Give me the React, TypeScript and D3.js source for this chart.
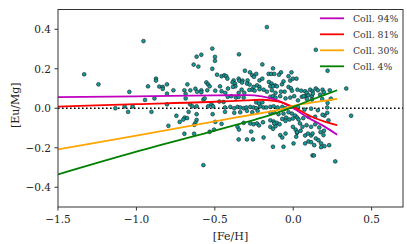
import * as d3 from 'd3'

// model tracks, sampled on a common [Fe/H] grid
const modelFeH = [-1.5, -1.0, -0.5, -0.3, -0.2, -0.1, 0.0, 0.1, 0.2, 0.28]
const coll94 = [0.056, 0.06, 0.065, 0.066, 0.06, 0.04, 0.0, -0.05, -0.093, -0.134]
const coll81 = [0.008, 0.021, 0.033, 0.04, 0.043, 0.035, 0.007, -0.037, -0.068, -0.086]
const coll30 = [-0.208, -0.139, -0.066, -0.038, -0.024, -0.01, 0.012, 0.026, 0.038, 0.047]
const coll4 = [-0.335, -0.22, -0.113, -0.07, -0.048, -0.022, 0.007, 0.038, 0.068, 0.091]

const seriesNames = ['Coll. 94%', 'Coll. 81%', 'Coll. 30%', 'Coll. 4%']
const seriesColors = ['#bf00bf', '#ff0000', '#ffa500', '#008000']

const xTicks = [-1.5, -1.0, -0.5, 0.0, 0.5]
const yTicks = [-0.4, -0.2, 0.0, 0.2, 0.4]

// observed stars: [Fe/H], [Eu/Mg]
const stars: [number, number][] = [
  [-0.955, 0.34], [-1.333, 0.172], [-1.242, 0.121], [-1.045, 0.083], [-0.926, 0.111], [-0.945, 0.042],
  [-1.134, 0.0], [-1.075, 0.009], [-1.024, 0.009], [-1.053, -0.018],
  [-0.516, 0.302], [-0.499, 0.26], [-0.499, 0.24], [-0.616, 0.261], [-0.586, 0.271], [-0.635, 0.221],
  [-0.605, 0.211], [-0.516, 0.2], [-0.486, 0.17], [-0.457, 0.162], [-0.875, 0.15], [-0.875, 0.14],
  [-0.854, 0.11], [-0.832, 0.108], [-0.832, 0.098], [-0.805, 0.121], [-0.764, 0.091], [-0.675, 0.121],
  [-0.694, 0.091], [-0.656, 0.091], [-0.624, 0.099], [-0.613, 0.084], [-0.586, 0.091], [-0.586, 0.081],
  [-0.554, 0.131], [-0.543, 0.121], [-0.533, 0.111], [-0.548, 0.091], [-0.497, 0.089], [-0.467, 0.111],
  [-0.805, 0.074], [-0.686, 0.073],
  [-0.885, 0.05], [-0.686, 0.05], [-0.573, 0.044], [-0.565, 0.05], [-0.904, -0.018], [-0.805, 0.02],
  [-0.658, 0.02], [-0.643, 0.01], [-0.543, 0.01], [-0.522, 0.02], [-0.511, 0.01], [-0.471, 0.034],
  [-0.616, 0.01], [-0.745, -0.038], [-0.616, -0.03], [-0.667, -0.018], [-0.692, -0.047], [-0.677, -0.05],
  [-0.701, -0.057], [-0.724, -0.069], [-0.616, -0.059], [-0.624, -0.074], [-0.631, -0.084], [-0.796, -0.089],
  [-0.514, -0.03], [-0.497, -0.069], [-0.694, -0.129], [-0.632, -0.129], [-0.533, -0.119], [-0.505, -0.108],
  [-0.457, -0.079], [-0.573, -0.288],
  [-0.168, 0.411], [-0.346, 0.273], [-0.197, 0.222], [-0.308, 0.19], [-0.276, 0.182], [-0.261, 0.167],
  [-0.25, 0.159], [-0.236, 0.174], [-0.157, 0.174], [-0.14, 0.174], [-0.121, 0.174], [-0.129, 0.202],
  [-0.078, 0.182], [-0.091, 0.17], [-0.011, 0.182], [-0.439, 0.167], [-0.427, 0.162], [-0.42, 0.15],
  [-0.416, 0.1], [-0.38, 0.141], [-0.387, 0.131], [-0.371, 0.125], [-0.348, 0.15], [-0.344, 0.14],
  [-0.323, 0.14], [-0.327, 0.13], [-0.291, 0.141], [-0.295, 0.125], [-0.369, 0.111], [-0.329, 0.094],
  [-0.278, 0.12], [-0.253, 0.108], [-0.263, 0.094], [-0.215, 0.141], [-0.197, 0.15], [-0.231, 0.116],
  [-0.215, 0.108], [-0.215, 0.096], [-0.28, 0.093], [-0.246, 0.089], [-0.155, 0.133], [-0.138, 0.125],
  [-0.115, 0.116], [-0.146, 0.111], [-0.129, 0.111], [-0.104, 0.111], [-0.072, 0.121], [-0.062, 0.136],
  [-0.03, 0.162], [-0.019, 0.14], [-0.002, 0.15], [-0.03, 0.108], [-0.015, 0.101], [-0.008, 0.089],
  [-0.055, 0.084], [-0.078, 0.084], [-0.113, 0.078], [-0.136, 0.091], [0.021, 0.15], [0.027, 0.094],
  [-0.189, 0.094], [-0.168, 0.084], [-0.457, 0.086], [-0.433, 0.078], [-0.348, 0.078], [-0.312, 0.078],
  [-0.384, 0.108],
  [-0.444, 0.032], [-0.435, 0.004], [-0.435, -0.018], [-0.418, 0.058], [-0.395, 0.061], [-0.365, 0.054],
  [-0.348, 0.058], [-0.316, 0.054],
  [-0.401, 0.007], [-0.376, 0.0], [-0.355, 0.007], [-0.338, 0.004], [-0.316, 0.0], [-0.299, 0.004],
  [-0.274, 0.007], [-0.253, 0.004], [-0.236, 0.0], [-0.21, 0.01], [-0.189, 0.004], [-0.172, 0.004],
  [-0.146, 0.007], [-0.125, 0.01], [-0.1, 0.004], [-0.07, 0.007], [-0.049, 0.0],
  [-0.376, -0.023], [-0.338, -0.02], [-0.295, -0.013], [-0.261, -0.02], [-0.227, -0.013],
  [-0.146, -0.023], [-0.121, -0.02], [-0.094, -0.03], [-0.062, -0.027], [-0.03, -0.02], [-0.008, -0.027],
  [0.013, -0.037], [-0.045, -0.047], [-0.024, -0.057], [-0.002, -0.052],
  [-0.355, -0.094], [-0.346, -0.108], [-0.316, -0.074], [-0.274, -0.077], [-0.253, -0.081], [-0.231, -0.077],
  [-0.218, -0.087], [-0.193, -0.071], [-0.146, -0.061], [-0.125, -0.067], [-0.104, -0.074], [-0.087, -0.081],
  [-0.146, -0.094], [-0.129, -0.104], [-0.113, -0.091], [-0.121, -0.077], [-0.07, -0.054], [-0.049, -0.064],
  [-0.002, -0.094], [0.015, -0.108], [0.024, -0.124], [-0.268, -0.118], [-0.189, -0.148], [-0.348, -0.158],
  [-0.295, -0.158], [-0.257, -0.158], [-0.083, -0.136], [-0.07, -0.148], [-0.049, -0.128], [0.019, -0.144],
  [-0.129, -0.195], [-0.062, -0.195],
  [-0.146, 0.058], [-0.129, 0.061], [-0.113, 0.054], [-0.083, 0.061], [-0.049, 0.05], [-0.019, 0.054],
  [0.006, 0.061], [-0.236, 0.03], [-0.218, 0.024], [-0.197, 0.03],
  [0.144, 0.296], [0.219, 0.19], [0.338, 0.1], [0.051, 0.089], [0.076, 0.086], [0.108, 0.094],
  [0.123, 0.086], [0.144, 0.1], [0.157, 0.091], [0.187, 0.094], [0.196, 0.081], [0.233, 0.091], [0.087, 0.078],
  [0.369, -0.038], [0.268, -0.269], [0.123, -0.239], [0.132, -0.239],
  [0.03, 0.04], [0.055, 0.058], [0.076, 0.061], [0.097, 0.066], [0.119, 0.061],
  [0.03, 0.007], [0.072, -0.007], [0.114, -0.002], [0.157, -0.01], [0.217, 0.004],
  [0.217, -0.023], [0.199, -0.037], [0.025, -0.047], [0.034, -0.057], [0.064, -0.05], [0.097, -0.043],
  [0.14, -0.043], [0.043, -0.077], [0.059, -0.094], [0.085, -0.086], [0.114, -0.094], [0.14, -0.081],
  [0.166, -0.097], [0.196, -0.114], [0.174, -0.121], [0.025, -0.121], [0.047, -0.114], [0.076, -0.138],
  [0.094, -0.128], [0.114, -0.138], [0.123, -0.128], [0.144, -0.153], [0.161, -0.162], [0.178, -0.178],
  [0.199, -0.192], [0.229, -0.187], [0.076, -0.178], [0.097, -0.168], [0.114, -0.172],
  [0.187, -0.033], [0.225, -0.061], [0.193, -0.136],
  [0.172, 0.069], [0.24, 0.049], [0.219, 0.027], [0.185, 0.047], [0.125, 0.074], [0.119, 0.044],
  [0.087, 0.047], [0.066, 0.061], [0.002, -0.178], [0.134, -0.187], [0.178, -0.197],
]

const fmt = (v: number) => d3.format('.1f')(v).replace('-', '\u2212')

export default function App() {
  const width = 407
  const height = 244
  const left = 58
  const right = 403
  const top = 9.5
  const bottom = 207

  const x = d3.scaleLinear().domain([-1.5, 0.7]).range([left, right])
  const y = d3.scaleLinear().domain([-0.5, 0.5]).range([bottom, top])

  const line = d3
    .line<number>()
    .x((_, i) => x(modelFeH[i]))
    .y((d) => y(d))
    .curve(d3.curveMonotoneX)

  const tracks = [coll94, coll81, coll30, coll4]
  const font = "'DejaVu Serif', serif"

  return (
    <svg width={width} height={height} style={{ position: 'absolute', left: 0, top: 0, fontFamily: font }}>
      <rect width={width} height={height} fill="#fff" />
      <defs>
        <clipPath id="plot">
          <rect x={left} y={top} width={right - left} height={bottom - top} />
        </clipPath>
      </defs>
      <g clipPath="url(#plot)">
        <line x1={left} x2={right} y1={y(0)} y2={y(0)} stroke="#000" strokeWidth={1.6} strokeDasharray="1.6,2.4" />
        {stars.map(([fe, eu], i) => (
          <circle key={i} cx={x(fe)} cy={y(eu)} r={1.9} fill="#159a9a" stroke="#111" strokeWidth={0.55} />
        ))}
        {tracks.map((t, i) => (
          <path key={seriesNames[i]} d={line(t) ?? undefined} fill="none" stroke={seriesColors[i]} strokeWidth={1.8} />
        ))}
      </g>
      <rect x={left} y={top} width={right - left} height={bottom - top} fill="none" stroke="#333" strokeWidth={1} />
      {xTicks.map((t) => (
        <g key={t}>
          <line x1={x(t)} x2={x(t)} y1={bottom} y2={bottom + 3.5} stroke="#333" />
          <text x={x(t)} y={223} textAnchor="middle" fontSize={10.5} fill="#222">
            {fmt(t)}
          </text>
        </g>
      ))}
      {yTicks.map((t) => (
        <g key={t}>
          <line x1={left - 3.5} x2={left} y1={y(t)} y2={y(t)} stroke="#333" />
          <text x={51} y={y(t) + 3.8} textAnchor="end" fontSize={10.5} fill="#222">
            {fmt(t)}
          </text>
        </g>
      ))}
      <text x={(left + right) / 2} y={240} textAnchor="middle" fontSize={11} fill="#222">
        [Fe/H]
      </text>
      <text transform={`translate(19,${(top + bottom) / 2 - 3}) rotate(-90)`} textAnchor="middle" fontSize={11} fill="#222">
        [Eu/Mg]
      </text>
      {seriesNames.map((name, i) => {
        const ly = 18.3 + i * 16
        return (
          <g key={name}>
            <line x1={320} x2={344} y1={ly} y2={ly} stroke={seriesColors[i]} strokeWidth={1.8} />
            <text x={353} y={ly + 3.4} fontSize={9.3} fill="#333">
              {name}
            </text>
          </g>
        )
      })}
    </svg>
  )
}
